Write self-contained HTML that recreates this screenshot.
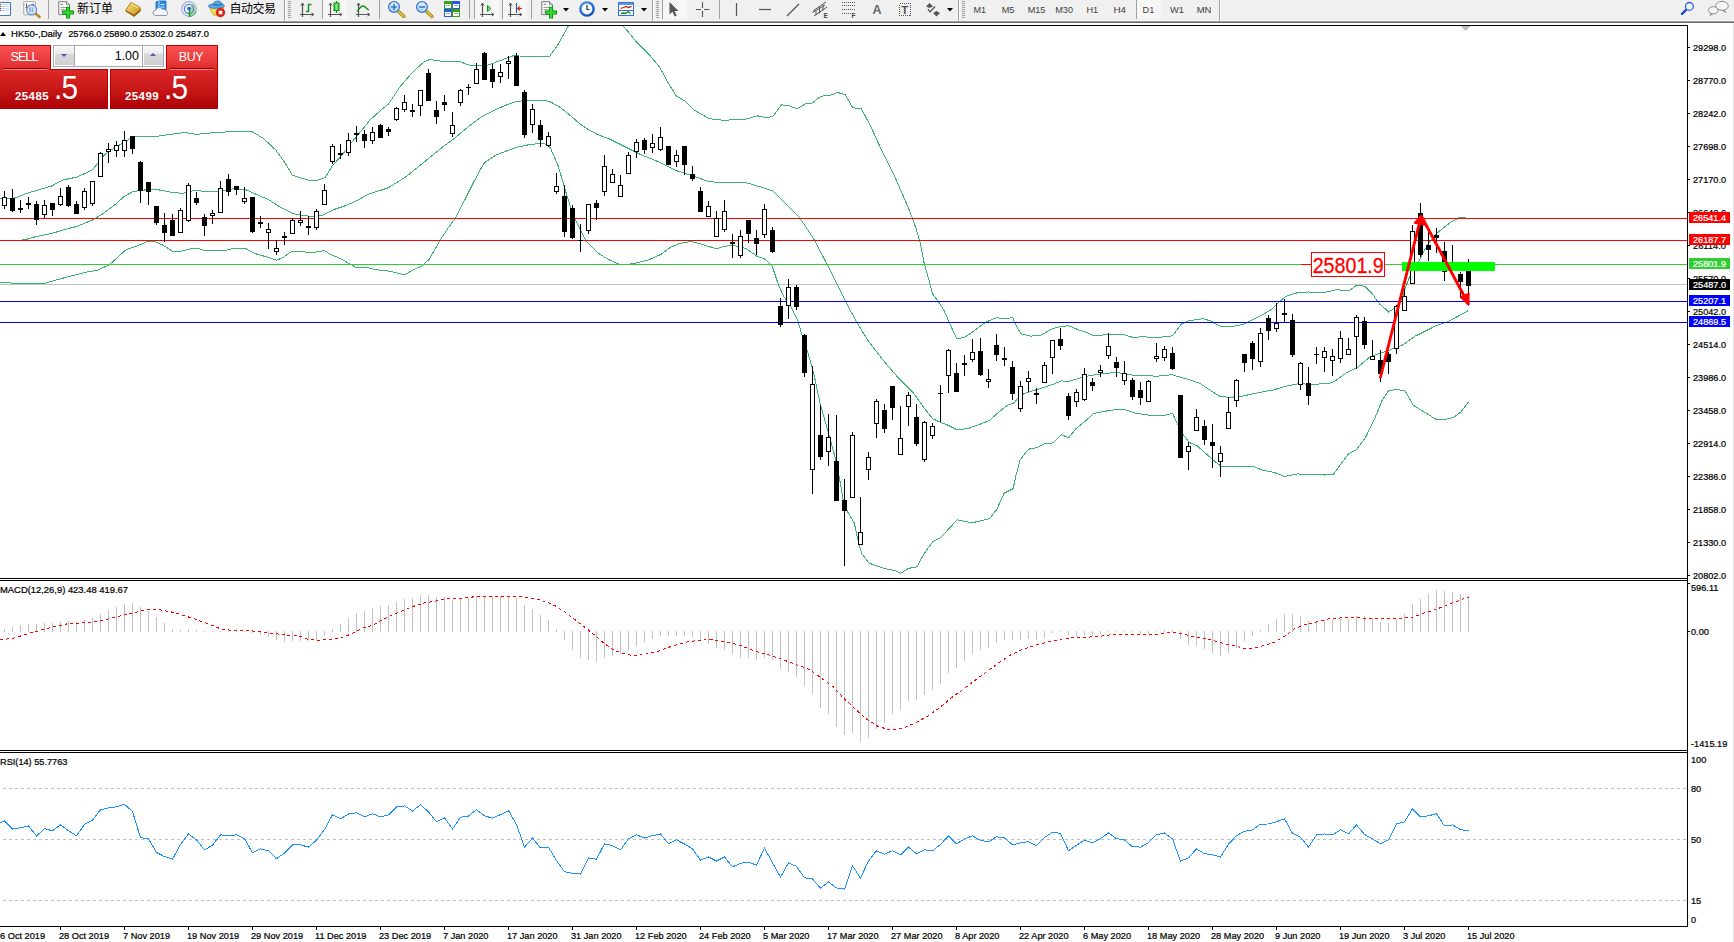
<!DOCTYPE html>
<html><head><meta charset="utf-8"><title>HK50-,Daily</title>
<style>
html,body{margin:0;padding:0;background:#fff;}
body{width:1734px;height:942px;position:relative;overflow:hidden;font-family:"Liberation Sans","Noto Sans CJK SC",sans-serif;}
#chart{position:absolute;left:0;top:0;}
#tb{position:absolute;left:0;top:0;width:1734px;height:20px;background:#f0f0f0;}
#tbl0{position:absolute;left:0;top:20px;width:1734px;height:1px;background:#f6f6f6;}
#tbl1{position:absolute;left:0;top:21px;width:1734px;height:1px;background:#a0a0a0;}
#tbl2{position:absolute;left:0;top:22px;width:1734px;height:1px;background:#696969;}
#redge{position:absolute;left:1733px;top:23px;width:1px;height:919px;background:#e8e8e8;}
#tbsvg{position:absolute;left:0;top:0;}
#tp{position:absolute;left:0;top:45px;width:218px;height:64px;font-family:"Liberation Sans",sans-serif;}
#tp div{position:absolute;box-sizing:border-box;}

</style></head><body>
<svg id="chart" width="1734" height="942" viewBox="0 0 1734 942"><g shape-rendering="crispEdges">
<rect x="0" y="25" width="1688" height="1" fill="#000"/>
<rect x="1687" y="25" width="1" height="902" fill="#000"/>
<rect x="0" y="578" width="1688" height="1" fill="#000"/>
<rect x="0" y="580" width="1688" height="1" fill="#000"/>
<rect x="0" y="750" width="1688" height="1" fill="#000"/>
<rect x="0" y="752" width="1688" height="1" fill="#000"/>
<rect x="0" y="926" width="1688" height="1" fill="#000"/>
</g>
<defs><clipPath id="cm"><rect x="0" y="26" width="1687" height="552"/></clipPath></defs>
<g clip-path="url(#cm)">
<rect x="0" y="284" width="1687" height="1" fill="#c0c0c0" shape-rendering="crispEdges"/>
<g shape-rendering="crispEdges">
<polyline points="0.5,198.8 15.5,197.9 26.0,193.7 39.5,189.5 51.5,186.0 63.5,179.8 76.5,177.2 92.5,169.9 99.0,161.5 105.5,153.8 116.0,147.0 126.1,141.1 131.2,137.7 136.5,136.8 156.5,136.3 170.5,134.3 185.5,132.5 196.5,134.4 216.4,132.4 232.6,131.7 252.5,132.0 263.3,138.3 275.9,150.1 284.9,162.7 292.2,175.0 301.2,178.0 309.3,180.4 317.5,180.2 325.0,177.7 331.9,166.3 340.9,156.4 349.9,144.7 359.0,133.5 369.8,120.3 380.6,110.4 388.5,104.0 399.6,87.3 413.0,71.7 424.2,61.7 429.7,59.5 444.2,61.7 459.8,61.7 471.0,65.7 486.6,65.7 500.0,60.6 513.4,55.7 531.2,56.6 549.3,56.7 558.0,44.6 567.9,26.6 575.5,18.5 615.5,18.5 623.8,26.6 636.9,42.4 650.1,55.6 659.9,67.6 667.6,81.9 676.4,96.1 685.1,101.1 693.9,109.9 709.2,118.7 722.4,120.2 744.3,119.6 757.5,115.8 766.2,117.6 772.8,116.5 781.6,104.9 788.1,105.3 796.9,108.8 805.7,103.8 812.2,103.1 821.0,96.1 829.8,95.7 837.4,92.4 845.1,94.6 852.8,107.7 861.5,108.8 871.4,127.9 882.4,152.0 895.5,178.3 903.0,195.5 909.4,210.4 915.7,227.3 920.0,242.2 924.2,263.4 928.5,278.3 932.7,294.2 939.1,302.7 944.1,310.5 949.5,323.1 956.7,338.5 964.0,337.6 974.8,330.4 985.6,322.2 996.5,317.7 1003.7,318.6 1012.7,317.7 1016.3,325.8 1020.8,333.6 1030.8,336.1 1041.6,334.9 1052.4,328.6 1061.4,326.4 1068.7,325.8 1077.7,329.5 1084.9,331.8 1093.9,335.8 1110.2,334.3 1124.5,334.8 1132.4,337.3 1144.1,336.8 1155.9,337.7 1172.6,335.8 1181.5,324.0 1189.3,320.6 1203.1,318.7 1210.9,321.0 1220.8,326.5 1230.6,326.9 1242.4,324.6 1252.2,320.1 1262.0,315.1 1271.8,309.3 1279.7,301.4 1285.6,296.5 1296.5,293.0 1308.5,292.0 1322.5,292.9 1336.5,289.7 1349.3,290.7 1356.9,285.0 1364.6,286.2 1372.2,293.9 1379.8,304.1 1388.8,312.1 1396.4,306.6 1402.8,297.1 1404.5,289.8 1409.6,277.0 1418.5,261.7 1423.6,251.5 1430.0,241.4 1436.4,233.7 1444.0,227.3 1451.6,221.6 1456.0,219.5 1459.5,217.5 1464.9,217.5 1466.0,218.5 1468.5,218.5" fill="none" stroke="#3cb371" stroke-width="1" />
<polyline points="0.5,240.9 24.5,239.9 34.5,237.0 51.5,233.5 68.5,228.5 76.5,226.5 92.5,220.0 102.5,214.1 116.0,203.9 124.5,196.2 132.9,191.7 141.5,190.3 153.5,189.1 163.5,190.6 173.5,192.8 183.5,193.2 192.5,190.8 196.5,190.3 207.3,191.9 220.0,191.6 232.6,188.9 245.2,189.4 256.1,194.3 268.7,199.7 281.3,207.8 294.0,213.8 304.8,215.6 312.0,216.5 322.9,215.0 333.7,209.6 344.5,206.0 355.3,201.5 368.0,194.3 380.6,190.3 388.5,187.7 406.3,176.5 424.2,162.0 442.0,147.5 455.4,137.5 468.8,126.3 482.1,116.3 497.8,108.5 513.4,102.3 522.3,100.7 533.4,100.3 549.0,101.1 560.2,107.4 571.3,116.3 580.2,124.1 588.5,129.7 597.5,134.5 609.0,138.8 625.0,146.8 641.0,154.7 659.3,162.1 675.2,170.3 691.2,175.3 707.2,181.0 718.6,182.8 732.3,182.1 746.0,182.6 759.7,186.7 772.5,190.8 777.7,195.5 799.0,216.7 813.8,239.0 826.6,263.4 837.2,284.7 847.8,305.9 858.4,325.0 869.0,342.0 883.9,361.1 896.6,376.0 900.9,380.5 913.6,393.2 924.2,408.1 932.7,418.7 940.5,422.4 947.7,425.1 956.7,429.6 967.6,428.7 976.6,425.5 989.2,420.6 998.3,412.5 1007.3,405.3 1014.5,402.6 1019.9,395.3 1028.9,392.1 1041.6,388.1 1052.4,384.5 1061.4,380.9 1068.7,381.4 1079.5,378.2 1090.3,375.5 1103.0,373.7 1115.6,372.4 1124.5,373.7 1136.3,375.7 1157.9,376.1 1171.7,374.7 1183.4,378.0 1199.2,382.9 1210.9,390.8 1220.8,396.7 1230.6,397.3 1242.4,396.1 1258.1,392.7 1273.8,389.8 1285.6,386.3 1297.4,383.9 1311.1,384.1 1327.6,383.9 1334.0,381.8 1345.4,373.5 1356.9,367.7 1370.5,356.4 1385.7,351.5 1402.2,345.3 1414.6,336.4 1428.5,329.5 1436.7,325.3 1447.7,321.9 1459.3,315.5 1468.5,310.5" fill="none" stroke="#3cb371" stroke-width="1" />
<polyline points="0.5,282.5 29.2,283.9 45.1,283.2 64.2,277.8 86.5,272.1 96.5,270.5 109.1,265.0 126.1,249.7 136.3,246.3 148.2,241.2 155.0,241.5 163.5,245.5 172.8,251.5 180.5,251.5 192.3,248.4 196.5,248.1 203.7,250.2 223.5,250.8 235.3,248.1 245.2,248.4 256.1,253.9 268.7,257.5 276.8,260.2 283.1,257.5 290.4,252.1 299.4,251.1 310.2,253.0 322.9,250.8 324.9,250.9 331.0,254.7 336.6,257.0 344.7,261.0 350.4,264.2 356.8,267.8 368.9,268.0 377.0,269.8 385.1,270.5 393.2,272.1 404.5,274.9 409.3,272.1 415.8,268.4 421.4,266.6 424.6,263.2 429.5,259.2 433.5,251.5 437.6,245.0 440.8,239.0 446.5,230.5 455.4,217.8 466.5,196.6 477.7,174.3 484.4,162.7 495.5,155.3 506.7,150.9 517.8,147.1 531.2,144.2 544.6,143.5 550.2,147.5 558.0,165.4 564.6,187.7 571.3,210.0 577.1,223.2 586.2,241.5 597.6,252.9 609.0,259.8 620.4,264.8 631.9,263.9 647.8,260.2 661.5,254.1 670.7,247.2 679.8,243.3 691.2,241.5 702.6,244.5 716.3,248.8 725.5,246.1 734.6,245.6 746.0,248.4 756.5,256.0 765.0,259.2 772.4,266.6 777.7,282.5 783.0,295.3 790.5,305.9 797.9,320.8 802.1,335.6 808.5,354.7 813.8,373.8 820.2,403.9 828.7,433.6 837.2,465.4 843.5,501.5 847.8,512.1 854.2,522.8 858.4,541.9 861.6,553.5 869.0,563.1 883.9,568.4 894.5,570.5 900.9,573.3 908.3,568.4 916.8,566.9 924.2,553.5 932.7,541.9 940.5,537.7 957.1,519.9 972.3,522.8 989.5,518.6 996.6,509.7 1004.2,493.1 1013.1,488.7 1015.7,476.6 1020.1,460.0 1028.4,449.2 1037.3,447.6 1043.7,444.1 1053.2,442.8 1061.4,434.7 1068.7,437.8 1075.9,428.7 1084.9,421.5 1093.9,413.4 1103.0,411.6 1113.8,409.8 1124.5,409.5 1136.3,413.4 1150.0,415.3 1163.8,415.7 1172.6,413.4 1177.5,424.2 1183.4,435.0 1189.3,442.5 1197.2,445.8 1207.0,454.6 1214.9,461.5 1221.7,466.8 1254.2,466.8 1262.0,470.0 1273.8,472.3 1284.6,476.6 1297.4,473.9 1311.1,474.9 1324.5,475.0 1333.2,474.8 1341.1,463.6 1348.7,453.5 1356.4,449.7 1365.9,436.8 1375.5,416.7 1382.0,400.5 1388.4,390.8 1396.7,389.5 1405.0,390.8 1413.3,405.3 1425.7,412.9 1436.7,419.8 1445.7,419.4 1453.3,417.5 1460.8,412.2 1468.4,401.9" fill="none" stroke="#3cb371" stroke-width="1" />
</g>
<g shape-rendering="crispEdges">
<rect x="0" y="218" width="1687" height="1" fill="#ff0000"/>
<rect x="0" y="240" width="1687" height="1" fill="#ff0000"/>
<rect x="0" y="264" width="1687" height="1" fill="#32cd32"/>
<rect x="0" y="301" width="1687" height="1" fill="#0000ff"/>
<rect x="0" y="322" width="1687" height="1" fill="#0000ff"/>
</g>
<g shape-rendering="crispEdges">
<rect x="4" y="191" width="1" height="18" fill="#000"/>
<rect x="2" y="197" width="5" height="9" fill="#000"/>
<rect x="3" y="198" width="3" height="7" fill="#fff"/>
<rect x="12" y="189" width="1" height="23" fill="#000"/>
<rect x="10" y="198" width="5" height="13" fill="#000"/>
<rect x="20" y="200" width="1" height="13" fill="#000"/>
<rect x="18" y="208" width="5" height="2" fill="#000"/>
<rect x="28" y="197" width="1" height="12" fill="#000"/>
<rect x="26" y="203" width="5" height="2" fill="#000"/>
<rect x="36" y="201" width="1" height="24" fill="#000"/>
<rect x="34" y="204" width="5" height="16" fill="#000"/>
<rect x="44" y="200" width="1" height="18" fill="#000"/>
<rect x="42" y="205" width="5" height="10" fill="#000"/>
<rect x="43" y="206" width="3" height="8" fill="#fff"/>
<rect x="52" y="203" width="1" height="13" fill="#000"/>
<rect x="50" y="203" width="5" height="7" fill="#000"/>
<rect x="60" y="188" width="1" height="18" fill="#000"/>
<rect x="58" y="196" width="5" height="9" fill="#000"/>
<rect x="59" y="197" width="3" height="7" fill="#fff"/>
<rect x="68" y="185" width="1" height="22" fill="#000"/>
<rect x="66" y="187" width="5" height="19" fill="#000"/>
<rect x="76" y="201" width="1" height="13" fill="#000"/>
<rect x="74" y="204" width="5" height="10" fill="#000"/>
<rect x="84" y="188" width="1" height="22" fill="#000"/>
<rect x="82" y="191" width="5" height="17" fill="#000"/>
<rect x="83" y="192" width="3" height="15" fill="#fff"/>
<rect x="92" y="181" width="1" height="25" fill="#000"/>
<rect x="90" y="181" width="5" height="23" fill="#000"/>
<rect x="91" y="182" width="3" height="21" fill="#fff"/>
<rect x="100" y="152" width="1" height="25" fill="#000"/>
<rect x="98" y="153" width="5" height="24" fill="#000"/>
<rect x="99" y="154" width="3" height="22" fill="#fff"/>
<rect x="108" y="143" width="1" height="20" fill="#000"/>
<rect x="106" y="149" width="5" height="3" fill="#000"/>
<rect x="107" y="150" width="3" height="1" fill="#fff"/>
<rect x="116" y="141" width="1" height="16" fill="#000"/>
<rect x="114" y="145" width="5" height="6" fill="#000"/>
<rect x="115" y="146" width="3" height="4" fill="#fff"/>
<rect x="124" y="131" width="1" height="26" fill="#000"/>
<rect x="122" y="140" width="5" height="11" fill="#000"/>
<rect x="123" y="141" width="3" height="9" fill="#fff"/>
<rect x="132" y="136" width="1" height="18" fill="#000"/>
<rect x="130" y="136" width="5" height="13" fill="#000"/>
<rect x="140" y="161" width="1" height="42" fill="#000"/>
<rect x="138" y="162" width="5" height="29" fill="#000"/>
<rect x="148" y="182" width="1" height="23" fill="#000"/>
<rect x="146" y="182" width="5" height="10" fill="#000"/>
<rect x="156" y="206" width="1" height="19" fill="#000"/>
<rect x="154" y="206" width="5" height="17" fill="#000"/>
<rect x="164" y="213" width="1" height="29" fill="#000"/>
<rect x="162" y="225" width="5" height="8" fill="#000"/>
<rect x="172" y="214" width="1" height="22" fill="#000"/>
<rect x="170" y="220" width="5" height="16" fill="#000"/>
<rect x="180" y="208" width="1" height="25" fill="#000"/>
<rect x="178" y="210" width="5" height="23" fill="#000"/>
<rect x="179" y="211" width="3" height="21" fill="#fff"/>
<rect x="188" y="183" width="1" height="39" fill="#000"/>
<rect x="186" y="185" width="5" height="36" fill="#000"/>
<rect x="187" y="186" width="3" height="34" fill="#fff"/>
<rect x="196" y="192" width="1" height="13" fill="#000"/>
<rect x="194" y="198" width="5" height="5" fill="#000"/>
<rect x="204" y="214" width="1" height="22" fill="#000"/>
<rect x="202" y="217" width="5" height="9" fill="#000"/>
<rect x="212" y="210" width="1" height="14" fill="#000"/>
<rect x="210" y="213" width="5" height="3" fill="#000"/>
<rect x="211" y="214" width="3" height="1" fill="#fff"/>
<rect x="220" y="181" width="1" height="32" fill="#000"/>
<rect x="218" y="188" width="5" height="25" fill="#000"/>
<rect x="219" y="189" width="3" height="23" fill="#fff"/>
<rect x="228" y="174" width="1" height="22" fill="#000"/>
<rect x="226" y="179" width="5" height="13" fill="#000"/>
<rect x="236" y="186" width="1" height="9" fill="#000"/>
<rect x="234" y="186" width="5" height="4" fill="#000"/>
<rect x="244" y="187" width="1" height="17" fill="#000"/>
<rect x="242" y="198" width="5" height="4" fill="#000"/>
<rect x="243" y="199" width="3" height="2" fill="#fff"/>
<rect x="252" y="197" width="1" height="36" fill="#000"/>
<rect x="250" y="197" width="5" height="35" fill="#000"/>
<rect x="260" y="216" width="1" height="12" fill="#000"/>
<rect x="258" y="222" width="5" height="2" fill="#000"/>
<rect x="268" y="223" width="1" height="26" fill="#000"/>
<rect x="266" y="229" width="5" height="4" fill="#000"/>
<rect x="267" y="230" width="3" height="2" fill="#fff"/>
<rect x="276" y="240" width="1" height="15" fill="#000"/>
<rect x="274" y="248" width="5" height="4" fill="#000"/>
<rect x="275" y="249" width="3" height="2" fill="#fff"/>
<rect x="284" y="232" width="1" height="13" fill="#000"/>
<rect x="282" y="236" width="5" height="2" fill="#000"/>
<rect x="292" y="218" width="1" height="16" fill="#000"/>
<rect x="290" y="220" width="5" height="14" fill="#000"/>
<rect x="291" y="221" width="3" height="12" fill="#fff"/>
<rect x="300" y="211" width="1" height="15" fill="#000"/>
<rect x="298" y="220" width="5" height="3" fill="#000"/>
<rect x="299" y="221" width="3" height="1" fill="#fff"/>
<rect x="308" y="216" width="1" height="19" fill="#000"/>
<rect x="306" y="226" width="5" height="2" fill="#000"/>
<rect x="316" y="209" width="1" height="21" fill="#000"/>
<rect x="314" y="211" width="5" height="17" fill="#000"/>
<rect x="315" y="212" width="3" height="15" fill="#fff"/>
<rect x="324" y="184" width="1" height="21" fill="#000"/>
<rect x="322" y="190" width="5" height="15" fill="#000"/>
<rect x="323" y="191" width="3" height="13" fill="#fff"/>
<rect x="332" y="144" width="1" height="20" fill="#000"/>
<rect x="330" y="146" width="5" height="16" fill="#000"/>
<rect x="331" y="147" width="3" height="14" fill="#fff"/>
<rect x="340" y="144" width="1" height="15" fill="#000"/>
<rect x="338" y="153" width="5" height="2" fill="#000"/>
<rect x="348" y="133" width="1" height="23" fill="#000"/>
<rect x="346" y="140" width="5" height="13" fill="#000"/>
<rect x="347" y="141" width="3" height="11" fill="#fff"/>
<rect x="356" y="126" width="1" height="16" fill="#000"/>
<rect x="354" y="133" width="5" height="2" fill="#000"/>
<rect x="364" y="130" width="1" height="18" fill="#000"/>
<rect x="362" y="134" width="5" height="7" fill="#000"/>
<rect x="372" y="127" width="1" height="17" fill="#000"/>
<rect x="370" y="132" width="5" height="9" fill="#000"/>
<rect x="371" y="133" width="3" height="7" fill="#fff"/>
<rect x="380" y="124" width="1" height="14" fill="#000"/>
<rect x="378" y="125" width="5" height="13" fill="#000"/>
<rect x="388" y="127" width="1" height="9" fill="#000"/>
<rect x="386" y="129" width="5" height="3" fill="#000"/>
<rect x="396" y="107" width="1" height="14" fill="#000"/>
<rect x="394" y="108" width="5" height="12" fill="#000"/>
<rect x="395" y="109" width="3" height="10" fill="#fff"/>
<rect x="404" y="95" width="1" height="17" fill="#000"/>
<rect x="402" y="102" width="5" height="8" fill="#000"/>
<rect x="403" y="103" width="3" height="6" fill="#fff"/>
<rect x="412" y="104" width="1" height="13" fill="#000"/>
<rect x="410" y="110" width="5" height="2" fill="#000"/>
<rect x="420" y="90" width="1" height="26" fill="#000"/>
<rect x="418" y="90" width="5" height="16" fill="#000"/>
<rect x="419" y="91" width="3" height="14" fill="#fff"/>
<rect x="428" y="69" width="1" height="32" fill="#000"/>
<rect x="426" y="73" width="5" height="28" fill="#000"/>
<rect x="436" y="101" width="1" height="23" fill="#000"/>
<rect x="434" y="110" width="5" height="7" fill="#000"/>
<rect x="444" y="95" width="1" height="16" fill="#000"/>
<rect x="442" y="102" width="5" height="3" fill="#000"/>
<rect x="452" y="112" width="1" height="25" fill="#000"/>
<rect x="450" y="125" width="5" height="9" fill="#000"/>
<rect x="451" y="126" width="3" height="7" fill="#fff"/>
<rect x="460" y="89" width="1" height="17" fill="#000"/>
<rect x="458" y="90" width="5" height="13" fill="#000"/>
<rect x="459" y="91" width="3" height="11" fill="#fff"/>
<rect x="468" y="84" width="1" height="11" fill="#000"/>
<rect x="466" y="87" width="5" height="1" fill="#000"/>
<rect x="476" y="63" width="1" height="21" fill="#000"/>
<rect x="474" y="69" width="5" height="15" fill="#000"/>
<rect x="475" y="70" width="3" height="13" fill="#fff"/>
<rect x="484" y="52" width="1" height="28" fill="#000"/>
<rect x="482" y="53" width="5" height="27" fill="#000"/>
<rect x="492" y="64" width="1" height="24" fill="#000"/>
<rect x="490" y="69" width="5" height="13" fill="#000"/>
<rect x="500" y="64" width="1" height="19" fill="#000"/>
<rect x="498" y="72" width="5" height="5" fill="#000"/>
<rect x="499" y="73" width="3" height="3" fill="#fff"/>
<rect x="508" y="56" width="1" height="23" fill="#000"/>
<rect x="506" y="61" width="5" height="3" fill="#000"/>
<rect x="507" y="62" width="3" height="1" fill="#fff"/>
<rect x="516" y="53" width="1" height="33" fill="#000"/>
<rect x="514" y="56" width="5" height="30" fill="#000"/>
<rect x="524" y="90" width="1" height="48" fill="#000"/>
<rect x="522" y="92" width="5" height="43" fill="#000"/>
<rect x="532" y="104" width="1" height="29" fill="#000"/>
<rect x="530" y="109" width="5" height="16" fill="#000"/>
<rect x="531" y="110" width="3" height="14" fill="#fff"/>
<rect x="540" y="120" width="1" height="27" fill="#000"/>
<rect x="538" y="125" width="5" height="15" fill="#000"/>
<rect x="548" y="132" width="1" height="15" fill="#000"/>
<rect x="546" y="136" width="5" height="10" fill="#000"/>
<rect x="547" y="137" width="3" height="8" fill="#fff"/>
<rect x="556" y="173" width="1" height="21" fill="#000"/>
<rect x="554" y="186" width="5" height="6" fill="#000"/>
<rect x="555" y="187" width="3" height="4" fill="#fff"/>
<rect x="564" y="185" width="1" height="52" fill="#000"/>
<rect x="562" y="196" width="5" height="36" fill="#000"/>
<rect x="572" y="205" width="1" height="34" fill="#000"/>
<rect x="570" y="208" width="5" height="30" fill="#000"/>
<rect x="580" y="224" width="1" height="28" fill="#000"/>
<rect x="578" y="240" width="5" height="1" fill="#000"/>
<rect x="588" y="204" width="1" height="30" fill="#000"/>
<rect x="586" y="204" width="5" height="27" fill="#000"/>
<rect x="587" y="205" width="3" height="25" fill="#fff"/>
<rect x="596" y="200" width="1" height="20" fill="#000"/>
<rect x="594" y="203" width="5" height="5" fill="#000"/>
<rect x="604" y="155" width="1" height="41" fill="#000"/>
<rect x="602" y="166" width="5" height="26" fill="#000"/>
<rect x="603" y="167" width="3" height="24" fill="#fff"/>
<rect x="612" y="169" width="1" height="14" fill="#000"/>
<rect x="610" y="174" width="5" height="9" fill="#000"/>
<rect x="611" y="175" width="3" height="7" fill="#fff"/>
<rect x="620" y="175" width="1" height="22" fill="#000"/>
<rect x="618" y="185" width="5" height="12" fill="#000"/>
<rect x="619" y="186" width="3" height="10" fill="#fff"/>
<rect x="628" y="152" width="1" height="22" fill="#000"/>
<rect x="626" y="155" width="5" height="19" fill="#000"/>
<rect x="627" y="156" width="3" height="17" fill="#fff"/>
<rect x="636" y="139" width="1" height="19" fill="#000"/>
<rect x="634" y="142" width="5" height="10" fill="#000"/>
<rect x="635" y="143" width="3" height="8" fill="#fff"/>
<rect x="644" y="138" width="1" height="16" fill="#000"/>
<rect x="642" y="140" width="5" height="10" fill="#000"/>
<rect x="652" y="134" width="1" height="19" fill="#000"/>
<rect x="650" y="143" width="5" height="5" fill="#000"/>
<rect x="651" y="144" width="3" height="3" fill="#fff"/>
<rect x="660" y="127" width="1" height="24" fill="#000"/>
<rect x="658" y="137" width="5" height="13" fill="#000"/>
<rect x="659" y="138" width="3" height="11" fill="#fff"/>
<rect x="668" y="146" width="1" height="19" fill="#000"/>
<rect x="666" y="146" width="5" height="19" fill="#000"/>
<rect x="676" y="150" width="1" height="17" fill="#000"/>
<rect x="674" y="155" width="5" height="7" fill="#000"/>
<rect x="675" y="156" width="3" height="5" fill="#fff"/>
<rect x="684" y="146" width="1" height="29" fill="#000"/>
<rect x="682" y="146" width="5" height="19" fill="#000"/>
<rect x="692" y="166" width="1" height="15" fill="#000"/>
<rect x="690" y="174" width="5" height="5" fill="#000"/>
<rect x="700" y="187" width="1" height="25" fill="#000"/>
<rect x="698" y="191" width="5" height="21" fill="#000"/>
<rect x="708" y="201" width="1" height="16" fill="#000"/>
<rect x="706" y="206" width="5" height="11" fill="#000"/>
<rect x="707" y="207" width="3" height="9" fill="#fff"/>
<rect x="716" y="211" width="1" height="26" fill="#000"/>
<rect x="714" y="218" width="5" height="19" fill="#000"/>
<rect x="715" y="219" width="3" height="17" fill="#fff"/>
<rect x="724" y="200" width="1" height="32" fill="#000"/>
<rect x="722" y="211" width="5" height="19" fill="#000"/>
<rect x="723" y="212" width="3" height="17" fill="#fff"/>
<rect x="732" y="234" width="1" height="24" fill="#000"/>
<rect x="730" y="242" width="5" height="2" fill="#000"/>
<rect x="740" y="230" width="1" height="28" fill="#000"/>
<rect x="738" y="236" width="5" height="20" fill="#000"/>
<rect x="739" y="237" width="3" height="18" fill="#fff"/>
<rect x="748" y="220" width="1" height="23" fill="#000"/>
<rect x="746" y="220" width="5" height="14" fill="#000"/>
<rect x="756" y="230" width="1" height="25" fill="#000"/>
<rect x="754" y="238" width="5" height="6" fill="#000"/>
<rect x="764" y="204" width="1" height="34" fill="#000"/>
<rect x="762" y="209" width="5" height="26" fill="#000"/>
<rect x="763" y="210" width="3" height="24" fill="#fff"/>
<rect x="772" y="227" width="1" height="26" fill="#000"/>
<rect x="770" y="230" width="5" height="22" fill="#000"/>
<rect x="780" y="298" width="1" height="29" fill="#000"/>
<rect x="778" y="306" width="5" height="19" fill="#000"/>
<rect x="788" y="279" width="1" height="40" fill="#000"/>
<rect x="786" y="287" width="5" height="19" fill="#000"/>
<rect x="787" y="288" width="3" height="17" fill="#fff"/>
<rect x="796" y="285" width="1" height="25" fill="#000"/>
<rect x="794" y="287" width="5" height="20" fill="#000"/>
<rect x="804" y="334" width="1" height="43" fill="#000"/>
<rect x="802" y="335" width="5" height="38" fill="#000"/>
<rect x="812" y="366" width="1" height="128" fill="#000"/>
<rect x="810" y="384" width="5" height="86" fill="#000"/>
<rect x="811" y="385" width="3" height="84" fill="#fff"/>
<rect x="820" y="405" width="1" height="55" fill="#000"/>
<rect x="818" y="435" width="5" height="22" fill="#000"/>
<rect x="828" y="414" width="1" height="52" fill="#000"/>
<rect x="826" y="437" width="5" height="15" fill="#000"/>
<rect x="827" y="438" width="3" height="13" fill="#fff"/>
<rect x="836" y="415" width="1" height="86" fill="#000"/>
<rect x="834" y="461" width="5" height="40" fill="#000"/>
<rect x="844" y="479" width="1" height="87" fill="#000"/>
<rect x="842" y="500" width="5" height="11" fill="#000"/>
<rect x="852" y="432" width="1" height="66" fill="#000"/>
<rect x="850" y="435" width="5" height="63" fill="#000"/>
<rect x="851" y="436" width="3" height="61" fill="#fff"/>
<rect x="860" y="497" width="1" height="48" fill="#000"/>
<rect x="858" y="532" width="5" height="13" fill="#000"/>
<rect x="859" y="533" width="3" height="11" fill="#fff"/>
<rect x="868" y="452" width="1" height="28" fill="#000"/>
<rect x="866" y="457" width="5" height="13" fill="#000"/>
<rect x="867" y="458" width="3" height="11" fill="#fff"/>
<rect x="876" y="399" width="1" height="39" fill="#000"/>
<rect x="874" y="401" width="5" height="23" fill="#000"/>
<rect x="875" y="402" width="3" height="21" fill="#fff"/>
<rect x="884" y="404" width="1" height="29" fill="#000"/>
<rect x="882" y="410" width="5" height="19" fill="#000"/>
<rect x="892" y="386" width="1" height="34" fill="#000"/>
<rect x="890" y="386" width="5" height="22" fill="#000"/>
<rect x="900" y="406" width="1" height="49" fill="#000"/>
<rect x="898" y="438" width="5" height="17" fill="#000"/>
<rect x="899" y="439" width="3" height="15" fill="#fff"/>
<rect x="908" y="392" width="1" height="34" fill="#000"/>
<rect x="906" y="395" width="5" height="12" fill="#000"/>
<rect x="907" y="396" width="3" height="10" fill="#fff"/>
<rect x="916" y="404" width="1" height="42" fill="#000"/>
<rect x="914" y="417" width="5" height="27" fill="#000"/>
<rect x="924" y="421" width="1" height="41" fill="#000"/>
<rect x="922" y="422" width="5" height="38" fill="#000"/>
<rect x="923" y="423" width="3" height="36" fill="#fff"/>
<rect x="932" y="423" width="1" height="16" fill="#000"/>
<rect x="930" y="426" width="5" height="10" fill="#000"/>
<rect x="931" y="427" width="3" height="8" fill="#fff"/>
<rect x="940" y="385" width="1" height="37" fill="#000"/>
<rect x="938" y="393" width="5" height="1" fill="#000"/>
<rect x="948" y="349" width="1" height="44" fill="#000"/>
<rect x="946" y="350" width="5" height="26" fill="#000"/>
<rect x="947" y="351" width="3" height="24" fill="#fff"/>
<rect x="956" y="363" width="1" height="29" fill="#000"/>
<rect x="954" y="373" width="5" height="19" fill="#000"/>
<rect x="964" y="355" width="1" height="21" fill="#000"/>
<rect x="962" y="363" width="5" height="2" fill="#000"/>
<rect x="972" y="339" width="1" height="23" fill="#000"/>
<rect x="970" y="352" width="5" height="8" fill="#000"/>
<rect x="971" y="353" width="3" height="6" fill="#fff"/>
<rect x="980" y="338" width="1" height="38" fill="#000"/>
<rect x="978" y="351" width="5" height="24" fill="#000"/>
<rect x="988" y="369" width="1" height="19" fill="#000"/>
<rect x="986" y="379" width="5" height="3" fill="#000"/>
<rect x="987" y="380" width="3" height="1" fill="#fff"/>
<rect x="996" y="334" width="1" height="27" fill="#000"/>
<rect x="994" y="345" width="5" height="10" fill="#000"/>
<rect x="1004" y="347" width="1" height="19" fill="#000"/>
<rect x="1002" y="358" width="5" height="2" fill="#000"/>
<rect x="1012" y="361" width="1" height="39" fill="#000"/>
<rect x="1010" y="367" width="5" height="27" fill="#000"/>
<rect x="1020" y="381" width="1" height="31" fill="#000"/>
<rect x="1018" y="386" width="5" height="23" fill="#000"/>
<rect x="1019" y="387" width="3" height="21" fill="#fff"/>
<rect x="1028" y="371" width="1" height="21" fill="#000"/>
<rect x="1026" y="378" width="5" height="4" fill="#000"/>
<rect x="1027" y="379" width="3" height="2" fill="#fff"/>
<rect x="1036" y="388" width="1" height="16" fill="#000"/>
<rect x="1034" y="393" width="5" height="2" fill="#000"/>
<rect x="1044" y="362" width="1" height="21" fill="#000"/>
<rect x="1042" y="365" width="5" height="18" fill="#000"/>
<rect x="1043" y="366" width="3" height="16" fill="#fff"/>
<rect x="1052" y="340" width="1" height="34" fill="#000"/>
<rect x="1050" y="340" width="5" height="18" fill="#000"/>
<rect x="1051" y="341" width="3" height="16" fill="#fff"/>
<rect x="1060" y="328" width="1" height="22" fill="#000"/>
<rect x="1058" y="339" width="5" height="7" fill="#000"/>
<rect x="1068" y="393" width="1" height="27" fill="#000"/>
<rect x="1066" y="396" width="5" height="20" fill="#000"/>
<rect x="1076" y="389" width="1" height="18" fill="#000"/>
<rect x="1074" y="392" width="5" height="10" fill="#000"/>
<rect x="1075" y="393" width="3" height="8" fill="#fff"/>
<rect x="1084" y="368" width="1" height="33" fill="#000"/>
<rect x="1082" y="374" width="5" height="26" fill="#000"/>
<rect x="1083" y="375" width="3" height="24" fill="#fff"/>
<rect x="1092" y="378" width="1" height="13" fill="#000"/>
<rect x="1090" y="382" width="5" height="4" fill="#000"/>
<rect x="1100" y="365" width="1" height="12" fill="#000"/>
<rect x="1098" y="370" width="5" height="3" fill="#000"/>
<rect x="1099" y="371" width="3" height="1" fill="#fff"/>
<rect x="1108" y="333" width="1" height="26" fill="#000"/>
<rect x="1106" y="346" width="5" height="10" fill="#000"/>
<rect x="1107" y="347" width="3" height="8" fill="#fff"/>
<rect x="1116" y="357" width="1" height="20" fill="#000"/>
<rect x="1114" y="362" width="5" height="6" fill="#000"/>
<rect x="1124" y="361" width="1" height="24" fill="#000"/>
<rect x="1122" y="373" width="5" height="8" fill="#000"/>
<rect x="1123" y="374" width="3" height="6" fill="#fff"/>
<rect x="1132" y="378" width="1" height="22" fill="#000"/>
<rect x="1130" y="380" width="5" height="17" fill="#000"/>
<rect x="1140" y="382" width="1" height="23" fill="#000"/>
<rect x="1138" y="390" width="5" height="8" fill="#000"/>
<rect x="1148" y="380" width="1" height="22" fill="#000"/>
<rect x="1146" y="381" width="5" height="21" fill="#000"/>
<rect x="1147" y="382" width="3" height="19" fill="#fff"/>
<rect x="1156" y="343" width="1" height="19" fill="#000"/>
<rect x="1154" y="356" width="5" height="3" fill="#000"/>
<rect x="1155" y="357" width="3" height="1" fill="#fff"/>
<rect x="1164" y="346" width="1" height="15" fill="#000"/>
<rect x="1162" y="349" width="5" height="9" fill="#000"/>
<rect x="1163" y="350" width="3" height="7" fill="#fff"/>
<rect x="1172" y="347" width="1" height="23" fill="#000"/>
<rect x="1170" y="353" width="5" height="16" fill="#000"/>
<rect x="1180" y="395" width="1" height="63" fill="#000"/>
<rect x="1178" y="395" width="5" height="63" fill="#000"/>
<rect x="1188" y="442" width="1" height="28" fill="#000"/>
<rect x="1186" y="446" width="5" height="6" fill="#000"/>
<rect x="1187" y="447" width="3" height="4" fill="#fff"/>
<rect x="1196" y="409" width="1" height="22" fill="#000"/>
<rect x="1194" y="417" width="5" height="14" fill="#000"/>
<rect x="1195" y="418" width="3" height="12" fill="#fff"/>
<rect x="1204" y="420" width="1" height="25" fill="#000"/>
<rect x="1202" y="426" width="5" height="14" fill="#000"/>
<rect x="1212" y="424" width="1" height="44" fill="#000"/>
<rect x="1210" y="442" width="5" height="4" fill="#000"/>
<rect x="1220" y="446" width="1" height="31" fill="#000"/>
<rect x="1218" y="453" width="5" height="9" fill="#000"/>
<rect x="1219" y="454" width="3" height="7" fill="#fff"/>
<rect x="1228" y="397" width="1" height="32" fill="#000"/>
<rect x="1226" y="412" width="5" height="17" fill="#000"/>
<rect x="1227" y="413" width="3" height="15" fill="#fff"/>
<rect x="1236" y="379" width="1" height="28" fill="#000"/>
<rect x="1234" y="380" width="5" height="21" fill="#000"/>
<rect x="1235" y="381" width="3" height="19" fill="#fff"/>
<rect x="1244" y="354" width="1" height="18" fill="#000"/>
<rect x="1242" y="354" width="5" height="9" fill="#000"/>
<rect x="1252" y="341" width="1" height="29" fill="#000"/>
<rect x="1250" y="343" width="5" height="16" fill="#000"/>
<rect x="1260" y="328" width="1" height="39" fill="#000"/>
<rect x="1258" y="333" width="5" height="29" fill="#000"/>
<rect x="1259" y="334" width="3" height="27" fill="#fff"/>
<rect x="1268" y="315" width="1" height="25" fill="#000"/>
<rect x="1266" y="318" width="5" height="13" fill="#000"/>
<rect x="1276" y="303" width="1" height="29" fill="#000"/>
<rect x="1274" y="323" width="5" height="6" fill="#000"/>
<rect x="1275" y="324" width="3" height="4" fill="#fff"/>
<rect x="1284" y="299" width="1" height="23" fill="#000"/>
<rect x="1282" y="313" width="5" height="2" fill="#000"/>
<rect x="1292" y="314" width="1" height="43" fill="#000"/>
<rect x="1290" y="320" width="5" height="35" fill="#000"/>
<rect x="1300" y="362" width="1" height="28" fill="#000"/>
<rect x="1298" y="363" width="5" height="22" fill="#000"/>
<rect x="1299" y="364" width="3" height="20" fill="#fff"/>
<rect x="1308" y="367" width="1" height="38" fill="#000"/>
<rect x="1306" y="383" width="5" height="13" fill="#000"/>
<rect x="1316" y="347" width="1" height="17" fill="#000"/>
<rect x="1314" y="354" width="5" height="1" fill="#000"/>
<rect x="1324" y="347" width="1" height="25" fill="#000"/>
<rect x="1322" y="351" width="5" height="7" fill="#000"/>
<rect x="1323" y="352" width="3" height="5" fill="#fff"/>
<rect x="1332" y="349" width="1" height="27" fill="#000"/>
<rect x="1330" y="356" width="5" height="5" fill="#000"/>
<rect x="1331" y="357" width="3" height="3" fill="#fff"/>
<rect x="1340" y="331" width="1" height="32" fill="#000"/>
<rect x="1338" y="338" width="5" height="21" fill="#000"/>
<rect x="1339" y="339" width="3" height="19" fill="#fff"/>
<rect x="1348" y="338" width="1" height="17" fill="#000"/>
<rect x="1346" y="349" width="5" height="6" fill="#000"/>
<rect x="1347" y="350" width="3" height="4" fill="#fff"/>
<rect x="1356" y="315" width="1" height="54" fill="#000"/>
<rect x="1354" y="317" width="5" height="20" fill="#000"/>
<rect x="1355" y="318" width="3" height="18" fill="#fff"/>
<rect x="1364" y="317" width="1" height="32" fill="#000"/>
<rect x="1362" y="321" width="5" height="24" fill="#000"/>
<rect x="1372" y="340" width="1" height="20" fill="#000"/>
<rect x="1370" y="356" width="5" height="4" fill="#000"/>
<rect x="1371" y="357" width="3" height="2" fill="#fff"/>
<rect x="1380" y="350" width="1" height="32" fill="#000"/>
<rect x="1378" y="360" width="5" height="14" fill="#000"/>
<rect x="1388" y="352" width="1" height="22" fill="#000"/>
<rect x="1386" y="354" width="5" height="8" fill="#000"/>
<rect x="1396" y="305" width="1" height="49" fill="#000"/>
<rect x="1394" y="306" width="5" height="43" fill="#000"/>
<rect x="1395" y="307" width="3" height="41" fill="#fff"/>
<rect x="1404" y="289" width="1" height="22" fill="#000"/>
<rect x="1402" y="296" width="5" height="15" fill="#000"/>
<rect x="1403" y="297" width="3" height="13" fill="#fff"/>
<rect x="1412" y="225" width="1" height="59" fill="#000"/>
<rect x="1410" y="231" width="5" height="53" fill="#000"/>
<rect x="1411" y="232" width="3" height="51" fill="#fff"/>
<rect x="1420" y="203" width="1" height="54" fill="#000"/>
<rect x="1418" y="213" width="5" height="42" fill="#000"/>
<rect x="1428" y="232" width="1" height="29" fill="#000"/>
<rect x="1426" y="245" width="5" height="5" fill="#000"/>
<rect x="1436" y="228" width="1" height="25" fill="#000"/>
<rect x="1434" y="235" width="5" height="3" fill="#000"/>
<rect x="1444" y="242" width="1" height="39" fill="#000"/>
<rect x="1442" y="251" width="5" height="21" fill="#000"/>
<rect x="1452" y="245" width="1" height="25" fill="#000"/>
<rect x="1450" y="266" width="5" height="1" fill="#000"/>
<rect x="1460" y="272" width="1" height="26" fill="#000"/>
<rect x="1458" y="274" width="5" height="8" fill="#000"/>
<rect x="1468" y="259" width="1" height="38" fill="#000"/>
<rect x="1466" y="268" width="5" height="18" fill="#000"/>
</g>
<rect x="1402" y="262" width="93" height="9" fill="#00ff00" shape-rendering="crispEdges"/>
<g shape-rendering="crispEdges"><rect x="1301" y="264" width="10" height="1" fill="#ff0000"/><rect x="1311.5" y="252.5" width="73" height="24" fill="#fff" stroke="#ff0000" stroke-width="1"/></g>
<text x="1348.2" y="273" font-family='"Liberation Sans","Noto Sans CJK SC",sans-serif' font-size="22.4" fill="#ff0000" stroke="#ff0000" stroke-width=".3" text-anchor="middle" textLength="71" lengthAdjust="spacingAndGlyphs">25801.9</text>
<g stroke="#ff0000" stroke-width="2.9" fill="#ff0000" stroke-linecap="round" stroke-linejoin="round">
<line x1="1380.5" y1="377" x2="1421" y2="217"/>
<line x1="1421.8" y1="217" x2="1468.2" y2="303.5"/>
<polygon points="1421,215.5 1414.5,223 1425,225" stroke-width="1.5"/>
<polygon points="1468.5,305 1460.5,297 1469,293.5" stroke-width="1.5"/>
</g>
</g>
<polygon points="1460.5,26 1470.5,26 1465.5,31" fill="#c0c0c0"/>
<g shape-rendering="crispEdges">
<rect x="1688" y="47" width="2" height="1" fill="#000"/>
<rect x="1688" y="80" width="2" height="1" fill="#000"/>
<rect x="1688" y="113" width="2" height="1" fill="#000"/>
<rect x="1688" y="146" width="2" height="1" fill="#000"/>
<rect x="1688" y="179" width="2" height="1" fill="#000"/>
<rect x="1688" y="212" width="2" height="1" fill="#000"/>
<rect x="1688" y="245" width="2" height="1" fill="#000"/>
<rect x="1688" y="278" width="2" height="1" fill="#000"/>
<rect x="1688" y="311" width="2" height="1" fill="#000"/>
<rect x="1688" y="344" width="2" height="1" fill="#000"/>
<rect x="1688" y="377" width="2" height="1" fill="#000"/>
<rect x="1688" y="410" width="2" height="1" fill="#000"/>
<rect x="1688" y="443" width="2" height="1" fill="#000"/>
<rect x="1688" y="476" width="2" height="1" fill="#000"/>
<rect x="1688" y="509" width="2" height="1" fill="#000"/>
<rect x="1688" y="542" width="2" height="1" fill="#000"/>
<rect x="1688" y="575" width="2" height="1" fill="#000"/>
</g>
<g font-family='"Liberation Sans","Noto Sans CJK SC",sans-serif' font-size="9.2" fill="#000" stroke="#000" stroke-width=".22">
<text transform="translate(1693 51) scale(1 1.05)" textLength="33" lengthAdjust="spacingAndGlyphs">29298.0</text>
<text transform="translate(1693 84) scale(1 1.05)" textLength="33" lengthAdjust="spacingAndGlyphs">28770.0</text>
<text transform="translate(1693 117) scale(1 1.05)" textLength="33" lengthAdjust="spacingAndGlyphs">28242.0</text>
<text transform="translate(1693 150) scale(1 1.05)" textLength="33" lengthAdjust="spacingAndGlyphs">27698.0</text>
<text transform="translate(1693 183) scale(1 1.05)" textLength="33" lengthAdjust="spacingAndGlyphs">27170.0</text>
<text transform="translate(1693 216) scale(1 1.05)" textLength="33" lengthAdjust="spacingAndGlyphs">26642.0</text>
<text transform="translate(1693 249) scale(1 1.05)" textLength="33" lengthAdjust="spacingAndGlyphs">26114.0</text>
<text transform="translate(1693 282) scale(1 1.05)" textLength="33" lengthAdjust="spacingAndGlyphs">25570.0</text>
<text transform="translate(1693 315) scale(1 1.05)" textLength="33" lengthAdjust="spacingAndGlyphs">25042.0</text>
<text transform="translate(1693 348) scale(1 1.05)" textLength="33" lengthAdjust="spacingAndGlyphs">24514.0</text>
<text transform="translate(1693 381) scale(1 1.05)" textLength="33" lengthAdjust="spacingAndGlyphs">23986.0</text>
<text transform="translate(1693 414) scale(1 1.05)" textLength="33" lengthAdjust="spacingAndGlyphs">23458.0</text>
<text transform="translate(1693 447) scale(1 1.05)" textLength="33" lengthAdjust="spacingAndGlyphs">22914.0</text>
<text transform="translate(1693 480) scale(1 1.05)" textLength="33" lengthAdjust="spacingAndGlyphs">22386.0</text>
<text transform="translate(1693 513) scale(1 1.05)" textLength="33" lengthAdjust="spacingAndGlyphs">21858.0</text>
<text transform="translate(1693 546) scale(1 1.05)" textLength="33" lengthAdjust="spacingAndGlyphs">21330.0</text>
<text transform="translate(1693 579) scale(1 1.05)" textLength="33" lengthAdjust="spacingAndGlyphs">20802.0</text>
</g>
<g shape-rendering="crispEdges">
<rect x="1689" y="212" width="41" height="11" fill="#ff0000"/>
<rect x="1689" y="234" width="41" height="11" fill="#ff0000"/>
<rect x="1689" y="258" width="41" height="11" fill="#32cd32"/>
<rect x="1689" y="279" width="41" height="11" fill="#000000"/>
<rect x="1689" y="295" width="41" height="11" fill="#0000ff"/>
<rect x="1689" y="316" width="41" height="11" fill="#0000ff"/>
</g>
<g font-family='"Liberation Sans","Noto Sans CJK SC",sans-serif' font-size="9.2" fill="#fff" stroke="#fff" stroke-width=".22">
<text transform="translate(1693 221) scale(1 1.05)" textLength="33" lengthAdjust="spacingAndGlyphs">26541.4</text>
<text transform="translate(1693 243) scale(1 1.05)" textLength="33" lengthAdjust="spacingAndGlyphs">26187.7</text>
<text transform="translate(1693 267) scale(1 1.05)" textLength="33" lengthAdjust="spacingAndGlyphs">25801.9</text>
<text transform="translate(1693 288) scale(1 1.05)" textLength="33" lengthAdjust="spacingAndGlyphs">25487.0</text>
<text transform="translate(1693 304) scale(1 1.05)" textLength="33" lengthAdjust="spacingAndGlyphs">25207.1</text>
<text transform="translate(1693 325) scale(1 1.05)" textLength="33" lengthAdjust="spacingAndGlyphs">24869.5</text>
</g>
<g shape-rendering="crispEdges">
<rect x="4" y="629" width="1" height="3" fill="#c0c0c0"/>
<rect x="12" y="627" width="1" height="5" fill="#c0c0c0"/>
<rect x="20" y="625" width="1" height="7" fill="#c0c0c0"/>
<rect x="28" y="624" width="1" height="8" fill="#c0c0c0"/>
<rect x="36" y="624" width="1" height="8" fill="#c0c0c0"/>
<rect x="44" y="623" width="1" height="9" fill="#c0c0c0"/>
<rect x="52" y="623" width="1" height="9" fill="#c0c0c0"/>
<rect x="60" y="622" width="1" height="10" fill="#c0c0c0"/>
<rect x="68" y="621" width="1" height="11" fill="#c0c0c0"/>
<rect x="76" y="622" width="1" height="10" fill="#c0c0c0"/>
<rect x="84" y="620" width="1" height="12" fill="#c0c0c0"/>
<rect x="92" y="618" width="1" height="14" fill="#c0c0c0"/>
<rect x="100" y="614" width="1" height="18" fill="#c0c0c0"/>
<rect x="108" y="610" width="1" height="22" fill="#c0c0c0"/>
<rect x="116" y="607" width="1" height="25" fill="#c0c0c0"/>
<rect x="124" y="604" width="1" height="28" fill="#c0c0c0"/>
<rect x="132" y="603" width="1" height="29" fill="#c0c0c0"/>
<rect x="140" y="607" width="1" height="25" fill="#c0c0c0"/>
<rect x="148" y="611" width="1" height="21" fill="#c0c0c0"/>
<rect x="156" y="617" width="1" height="15" fill="#c0c0c0"/>
<rect x="164" y="623" width="1" height="9" fill="#c0c0c0"/>
<rect x="172" y="629" width="1" height="3" fill="#c0c0c0"/>
<rect x="180" y="630" width="1" height="2" fill="#c0c0c0"/>
<rect x="188" y="629" width="1" height="3" fill="#c0c0c0"/>
<rect x="196" y="630" width="1" height="2" fill="#c0c0c0"/>
<rect x="204" y="631" width="1" height="1" fill="#c0c0c0"/>
<rect x="212" y="631" width="1" height="1" fill="#c0c0c0"/>
<rect x="220" y="631" width="1" height="1" fill="#c0c0c0"/>
<rect x="228" y="631" width="1" height="1" fill="#c0c0c0"/>
<rect x="236" y="631" width="1" height="1" fill="#c0c0c0"/>
<rect x="244" y="631" width="1" height="1" fill="#c0c0c0"/>
<rect x="252" y="631" width="1" height="2" fill="#c0c0c0"/>
<rect x="260" y="631" width="1" height="4" fill="#c0c0c0"/>
<rect x="268" y="631" width="1" height="6" fill="#c0c0c0"/>
<rect x="276" y="631" width="1" height="9" fill="#c0c0c0"/>
<rect x="284" y="631" width="1" height="11" fill="#c0c0c0"/>
<rect x="292" y="631" width="1" height="10" fill="#c0c0c0"/>
<rect x="300" y="631" width="1" height="10" fill="#c0c0c0"/>
<rect x="308" y="631" width="1" height="10" fill="#c0c0c0"/>
<rect x="316" y="631" width="1" height="9" fill="#c0c0c0"/>
<rect x="324" y="631" width="1" height="5" fill="#c0c0c0"/>
<rect x="332" y="629" width="1" height="3" fill="#c0c0c0"/>
<rect x="340" y="624" width="1" height="8" fill="#c0c0c0"/>
<rect x="348" y="618" width="1" height="14" fill="#c0c0c0"/>
<rect x="356" y="613" width="1" height="19" fill="#c0c0c0"/>
<rect x="364" y="611" width="1" height="21" fill="#c0c0c0"/>
<rect x="372" y="608" width="1" height="24" fill="#c0c0c0"/>
<rect x="380" y="606" width="1" height="26" fill="#c0c0c0"/>
<rect x="388" y="605" width="1" height="27" fill="#c0c0c0"/>
<rect x="396" y="602" width="1" height="30" fill="#c0c0c0"/>
<rect x="404" y="599" width="1" height="33" fill="#c0c0c0"/>
<rect x="412" y="598" width="1" height="34" fill="#c0c0c0"/>
<rect x="420" y="595" width="1" height="37" fill="#c0c0c0"/>
<rect x="428" y="595" width="1" height="37" fill="#c0c0c0"/>
<rect x="436" y="597" width="1" height="35" fill="#c0c0c0"/>
<rect x="444" y="597" width="1" height="35" fill="#c0c0c0"/>
<rect x="452" y="600" width="1" height="32" fill="#c0c0c0"/>
<rect x="460" y="599" width="1" height="33" fill="#c0c0c0"/>
<rect x="468" y="598" width="1" height="34" fill="#c0c0c0"/>
<rect x="476" y="596" width="1" height="36" fill="#c0c0c0"/>
<rect x="484" y="596" width="1" height="36" fill="#c0c0c0"/>
<rect x="492" y="596" width="1" height="36" fill="#c0c0c0"/>
<rect x="500" y="596" width="1" height="36" fill="#c0c0c0"/>
<rect x="508" y="596" width="1" height="36" fill="#c0c0c0"/>
<rect x="516" y="598" width="1" height="34" fill="#c0c0c0"/>
<rect x="524" y="605" width="1" height="27" fill="#c0c0c0"/>
<rect x="532" y="609" width="1" height="23" fill="#c0c0c0"/>
<rect x="540" y="615" width="1" height="17" fill="#c0c0c0"/>
<rect x="548" y="620" width="1" height="12" fill="#c0c0c0"/>
<rect x="556" y="629" width="1" height="3" fill="#c0c0c0"/>
<rect x="564" y="631" width="1" height="9" fill="#c0c0c0"/>
<rect x="572" y="631" width="1" height="19" fill="#c0c0c0"/>
<rect x="580" y="631" width="1" height="27" fill="#c0c0c0"/>
<rect x="588" y="631" width="1" height="29" fill="#c0c0c0"/>
<rect x="596" y="631" width="1" height="31" fill="#c0c0c0"/>
<rect x="604" y="631" width="1" height="27" fill="#c0c0c0"/>
<rect x="612" y="631" width="1" height="25" fill="#c0c0c0"/>
<rect x="620" y="631" width="1" height="23" fill="#c0c0c0"/>
<rect x="628" y="631" width="1" height="19" fill="#c0c0c0"/>
<rect x="636" y="631" width="1" height="15" fill="#c0c0c0"/>
<rect x="644" y="631" width="1" height="11" fill="#c0c0c0"/>
<rect x="652" y="631" width="1" height="8" fill="#c0c0c0"/>
<rect x="660" y="631" width="1" height="5" fill="#c0c0c0"/>
<rect x="668" y="631" width="1" height="5" fill="#c0c0c0"/>
<rect x="676" y="631" width="1" height="5" fill="#c0c0c0"/>
<rect x="684" y="631" width="1" height="5" fill="#c0c0c0"/>
<rect x="692" y="631" width="1" height="6" fill="#c0c0c0"/>
<rect x="700" y="631" width="1" height="10" fill="#c0c0c0"/>
<rect x="708" y="631" width="1" height="13" fill="#c0c0c0"/>
<rect x="716" y="631" width="1" height="17" fill="#c0c0c0"/>
<rect x="724" y="631" width="1" height="19" fill="#c0c0c0"/>
<rect x="732" y="631" width="1" height="23" fill="#c0c0c0"/>
<rect x="740" y="631" width="1" height="27" fill="#c0c0c0"/>
<rect x="748" y="631" width="1" height="27" fill="#c0c0c0"/>
<rect x="756" y="631" width="1" height="29" fill="#c0c0c0"/>
<rect x="764" y="631" width="1" height="27" fill="#c0c0c0"/>
<rect x="772" y="631" width="1" height="29" fill="#c0c0c0"/>
<rect x="780" y="631" width="1" height="38" fill="#c0c0c0"/>
<rect x="788" y="631" width="1" height="41" fill="#c0c0c0"/>
<rect x="796" y="631" width="1" height="46" fill="#c0c0c0"/>
<rect x="804" y="631" width="1" height="55" fill="#c0c0c0"/>
<rect x="812" y="631" width="1" height="63" fill="#c0c0c0"/>
<rect x="820" y="631" width="1" height="77" fill="#c0c0c0"/>
<rect x="828" y="631" width="1" height="83" fill="#c0c0c0"/>
<rect x="836" y="631" width="1" height="96" fill="#c0c0c0"/>
<rect x="844" y="631" width="1" height="104" fill="#c0c0c0"/>
<rect x="852" y="631" width="1" height="102" fill="#c0c0c0"/>
<rect x="860" y="631" width="1" height="111" fill="#c0c0c0"/>
<rect x="868" y="631" width="1" height="107" fill="#c0c0c0"/>
<rect x="876" y="631" width="1" height="98" fill="#c0c0c0"/>
<rect x="884" y="631" width="1" height="92" fill="#c0c0c0"/>
<rect x="892" y="631" width="1" height="83" fill="#c0c0c0"/>
<rect x="900" y="631" width="1" height="79" fill="#c0c0c0"/>
<rect x="908" y="631" width="1" height="70" fill="#c0c0c0"/>
<rect x="916" y="631" width="1" height="69" fill="#c0c0c0"/>
<rect x="924" y="631" width="1" height="64" fill="#c0c0c0"/>
<rect x="932" y="631" width="1" height="59" fill="#c0c0c0"/>
<rect x="940" y="631" width="1" height="53" fill="#c0c0c0"/>
<rect x="948" y="631" width="1" height="42" fill="#c0c0c0"/>
<rect x="956" y="631" width="1" height="37" fill="#c0c0c0"/>
<rect x="964" y="631" width="1" height="30" fill="#c0c0c0"/>
<rect x="972" y="631" width="1" height="23" fill="#c0c0c0"/>
<rect x="980" y="631" width="1" height="19" fill="#c0c0c0"/>
<rect x="988" y="631" width="1" height="17" fill="#c0c0c0"/>
<rect x="996" y="631" width="1" height="12" fill="#c0c0c0"/>
<rect x="1004" y="631" width="1" height="9" fill="#c0c0c0"/>
<rect x="1012" y="631" width="1" height="9" fill="#c0c0c0"/>
<rect x="1020" y="631" width="1" height="9" fill="#c0c0c0"/>
<rect x="1028" y="631" width="1" height="8" fill="#c0c0c0"/>
<rect x="1036" y="631" width="1" height="9" fill="#c0c0c0"/>
<rect x="1044" y="631" width="1" height="7" fill="#c0c0c0"/>
<rect x="1052" y="631" width="1" height="2" fill="#c0c0c0"/>
<rect x="1060" y="631" width="1" height="1" fill="#c0c0c0"/>
<rect x="1068" y="631" width="1" height="4" fill="#c0c0c0"/>
<rect x="1076" y="631" width="1" height="5" fill="#c0c0c0"/>
<rect x="1084" y="631" width="1" height="4" fill="#c0c0c0"/>
<rect x="1092" y="631" width="1" height="5" fill="#c0c0c0"/>
<rect x="1100" y="631" width="1" height="3" fill="#c0c0c0"/>
<rect x="1108" y="631" width="1" height="1" fill="#c0c0c0"/>
<rect x="1116" y="631" width="1" height="1" fill="#c0c0c0"/>
<rect x="1124" y="631" width="1" height="1" fill="#c0c0c0"/>
<rect x="1132" y="631" width="1" height="1" fill="#c0c0c0"/>
<rect x="1140" y="631" width="1" height="3" fill="#c0c0c0"/>
<rect x="1148" y="631" width="1" height="3" fill="#c0c0c0"/>
<rect x="1156" y="631" width="1" height="1" fill="#c0c0c0"/>
<rect x="1164" y="630" width="1" height="2" fill="#c0c0c0"/>
<rect x="1172" y="630" width="1" height="2" fill="#c0c0c0"/>
<rect x="1180" y="631" width="1" height="8" fill="#c0c0c0"/>
<rect x="1188" y="631" width="1" height="14" fill="#c0c0c0"/>
<rect x="1196" y="631" width="1" height="15" fill="#c0c0c0"/>
<rect x="1204" y="631" width="1" height="18" fill="#c0c0c0"/>
<rect x="1212" y="631" width="1" height="22" fill="#c0c0c0"/>
<rect x="1220" y="631" width="1" height="25" fill="#c0c0c0"/>
<rect x="1228" y="631" width="1" height="22" fill="#c0c0c0"/>
<rect x="1236" y="631" width="1" height="17" fill="#c0c0c0"/>
<rect x="1244" y="631" width="1" height="10" fill="#c0c0c0"/>
<rect x="1252" y="631" width="1" height="5" fill="#c0c0c0"/>
<rect x="1260" y="630" width="1" height="2" fill="#c0c0c0"/>
<rect x="1268" y="624" width="1" height="8" fill="#c0c0c0"/>
<rect x="1276" y="619" width="1" height="13" fill="#c0c0c0"/>
<rect x="1284" y="614" width="1" height="18" fill="#c0c0c0"/>
<rect x="1292" y="614" width="1" height="18" fill="#c0c0c0"/>
<rect x="1300" y="616" width="1" height="16" fill="#c0c0c0"/>
<rect x="1308" y="621" width="1" height="11" fill="#c0c0c0"/>
<rect x="1316" y="622" width="1" height="10" fill="#c0c0c0"/>
<rect x="1324" y="620" width="1" height="12" fill="#c0c0c0"/>
<rect x="1332" y="620" width="1" height="12" fill="#c0c0c0"/>
<rect x="1340" y="619" width="1" height="13" fill="#c0c0c0"/>
<rect x="1348" y="619" width="1" height="13" fill="#c0c0c0"/>
<rect x="1356" y="616" width="1" height="16" fill="#c0c0c0"/>
<rect x="1364" y="616" width="1" height="16" fill="#c0c0c0"/>
<rect x="1372" y="618" width="1" height="14" fill="#c0c0c0"/>
<rect x="1380" y="622" width="1" height="10" fill="#c0c0c0"/>
<rect x="1388" y="623" width="1" height="9" fill="#c0c0c0"/>
<rect x="1396" y="619" width="1" height="13" fill="#c0c0c0"/>
<rect x="1404" y="614" width="1" height="18" fill="#c0c0c0"/>
<rect x="1412" y="604" width="1" height="28" fill="#c0c0c0"/>
<rect x="1420" y="599" width="1" height="33" fill="#c0c0c0"/>
<rect x="1428" y="594" width="1" height="38" fill="#c0c0c0"/>
<rect x="1436" y="590" width="1" height="42" fill="#c0c0c0"/>
<rect x="1444" y="591" width="1" height="41" fill="#c0c0c0"/>
<rect x="1452" y="592" width="1" height="40" fill="#c0c0c0"/>
<rect x="1460" y="594" width="1" height="38" fill="#c0c0c0"/>
<rect x="1468" y="596" width="1" height="36" fill="#c0c0c0"/>
<polyline points="0.5,640.0 2.3,639.7 14.9,637.9 27.5,633.7 45.5,628.9 60.1,625.3 69.1,623.5 85.3,622.9 101.5,620.6 117.8,616.6 130.5,613.4 146.7,609.7 159.3,609.7 172.0,612.1 184.6,615.7 197.3,619.9 208.1,623.8 220.7,628.9 229.7,630.1 253.2,631.0 267.6,632.8 278.5,634.1 292.9,635.6 300.5,636.1 307.7,639.2 318.5,640.1 327.5,639.7 340.2,637.9 351.0,634.1 363.7,627.8 372.7,625.3 381.7,620.2 394.4,613.9 405.2,609.7 412.4,606.7 423.2,603.1 437.7,600.7 444.9,598.9 457.5,598.2 470.2,597.6 473.8,596.7 520.7,596.7 538.8,599.5 549.6,603.1 556.8,606.7 567.6,613.9 578.5,622.4 589.3,630.7 598.3,638.3 602.3,641.9 611.3,648.7 620.4,652.7 634.8,656.0 645.6,654.1 658.3,651.3 672.7,645.8 687.1,641.9 701.6,640.1 712.4,639.7 730.5,642.8 741.3,645.8 753.9,650.9 766.6,654.1 782.8,659.6 795.5,664.4 808.1,668.9 818.9,676.2 833.4,687.0 844.2,698.7 855.0,708.7 865.8,718.6 878.5,726.7 891.1,730.0 902.3,728.5 914.9,723.1 927.6,716.2 938.4,708.7 951.0,698.2 963.7,688.8 976.3,679.4 987.1,671.3 999.8,662.1 1010.6,654.9 1023.2,649.1 1035.9,645.1 1048.5,641.9 1064.8,638.3 1082.8,637.4 1099.1,636.5 1115.3,634.1 1158.6,634.1 1165.8,632.8 1174.9,632.8 1183.9,634.1 1192.9,636.5 1201.4,637.9 1211.3,640.1 1222.2,643.1 1234.8,645.8 1245.6,648.7 1254.7,647.8 1263.7,645.5 1274.5,642.4 1285.3,635.6 1294.4,628.9 1305.2,624.7 1316.0,622.0 1328.7,618.9 1341.3,617.9 1359.3,617.9 1370.2,618.9 1399.1,618.9 1404.5,617.5 1413.5,617.0 1424.3,613.0 1437.0,609.0 1449.6,604.0 1460.4,600.0 1468.6,597.1" fill="none" stroke="#ff0000" stroke-width="1" stroke-dasharray="3 3"/>
<rect x="1688" y="583" width="2" height="1" fill="#000"/>
<rect x="1688" y="631" width="2" height="1" fill="#000"/>
</g>
<g font-family='"Liberation Sans","Noto Sans CJK SC",sans-serif' font-size="9.2" fill="#000" stroke="#000" stroke-width=".22">
<text transform="translate(0 593) scale(1 1.05)" textLength="128" lengthAdjust="spacingAndGlyphs">MACD(12,26,9) 423.48 419.67</text>
<text transform="translate(1691 591) scale(1 1.05)">596.11</text>
<text transform="translate(1691 635) scale(1 1.05)">0.00</text>
<text transform="translate(1691 747) scale(1 1.05)">-1415.19</text>
</g>
<g shape-rendering="crispEdges">
<line x1="3" y1="788.5" x2="1687" y2="788.5" stroke="#c0c0c0" stroke-width="1" stroke-dasharray="3 3"/>
<line x1="3" y1="839.5" x2="1687" y2="839.5" stroke="#c0c0c0" stroke-width="1" stroke-dasharray="3 3"/>
<line x1="3" y1="900.5" x2="1687" y2="900.5" stroke="#c0c0c0" stroke-width="1" stroke-dasharray="3 3"/>
<polyline points="-3.5,824.1 4.5,820.9 12.5,829.0 20.5,827.8 28.5,826.0 36.5,835.9 44.5,828.7 52.5,830.8 60.5,824.9 68.5,830.8 76.5,835.7 84.5,824.5 92.5,820.0 100.5,809.7 108.5,807.9 116.5,806.8 124.5,804.3 132.5,811.5 140.5,837.5 148.5,838.9 156.5,852.5 164.5,856.6 172.5,859.2 180.5,844.4 188.5,833.9 196.5,839.9 204.5,849.8 212.5,845.3 220.5,834.8 228.5,835.9 236.5,834.8 244.5,838.6 252.5,852.8 260.5,848.9 268.5,850.7 276.5,858.8 284.5,853.0 292.5,844.9 300.5,844.9 308.5,847.1 316.5,840.2 324.5,829.6 332.5,814.6 340.5,818.7 348.5,814.0 356.5,812.8 364.5,816.9 372.5,813.7 380.5,816.9 388.5,814.9 396.5,807.0 404.5,805.9 412.5,811.0 420.5,804.7 428.5,811.9 436.5,821.8 444.5,817.8 452.5,829.0 460.5,817.3 468.5,816.0 476.5,809.7 484.5,815.8 492.5,818.2 500.5,814.6 508.5,810.6 516.5,824.5 524.5,847.1 532.5,838.0 540.5,848.0 548.5,847.1 556.5,860.6 564.5,871.8 572.5,873.2 580.5,874.1 588.5,857.9 596.5,859.2 604.5,843.8 612.5,845.6 620.5,849.8 628.5,838.6 636.5,834.8 644.5,838.0 652.5,835.7 660.5,833.9 668.5,843.8 676.5,839.9 684.5,844.0 692.5,848.9 700.5,860.1 708.5,857.0 716.5,861.0 724.5,857.0 732.5,866.9 740.5,863.3 748.5,862.1 756.5,865.1 764.5,848.0 772.5,862.8 780.5,877.2 788.5,862.8 796.5,866.4 804.5,877.8 812.5,879.0 820.5,888.0 828.5,881.9 836.5,888.0 844.5,889.1 852.5,866.0 860.5,878.1 868.5,861.0 876.5,850.7 884.5,854.3 892.5,850.7 900.5,854.8 908.5,847.1 916.5,853.9 924.5,849.8 932.5,851.0 940.5,844.4 948.5,835.9 956.5,843.8 964.5,838.9 972.5,835.9 980.5,840.4 988.5,842.0 996.5,836.8 1004.5,838.0 1012.5,844.7 1020.5,842.9 1028.5,841.7 1036.5,845.8 1044.5,837.5 1052.5,832.1 1060.5,833.5 1068.5,850.7 1076.5,845.3 1084.5,840.2 1092.5,842.9 1100.5,838.6 1108.5,833.0 1116.5,838.6 1124.5,839.9 1132.5,846.7 1140.5,847.1 1148.5,842.6 1156.5,834.8 1164.5,833.0 1172.5,838.9 1180.5,861.0 1188.5,857.9 1196.5,848.9 1204.5,853.7 1212.5,854.8 1220.5,857.0 1228.5,844.0 1236.5,835.7 1244.5,831.2 1252.5,829.9 1260.5,824.1 1268.5,824.0 1276.5,821.8 1284.5,818.7 1292.5,833.5 1300.5,837.1 1308.5,847.1 1316.5,835.0 1324.5,833.9 1332.5,834.8 1340.5,829.9 1348.5,833.9 1356.5,824.9 1364.5,834.4 1372.5,838.9 1380.5,843.8 1388.5,839.9 1396.5,824.0 1404.5,821.8 1412.5,808.8 1420.5,816.9 1428.5,815.8 1436.5,813.7 1444.5,826.0 1452.5,824.9 1460.5,829.6 1468.5,830.8" fill="none" stroke="#1e90ff" stroke-width="1" />
</g>
<g font-family='"Liberation Sans","Noto Sans CJK SC",sans-serif' font-size="9.2" fill="#000" stroke="#000" stroke-width=".22">
<text transform="translate(0 765) scale(1 1.05)">RSI(14) 55.7763</text>
<text transform="translate(1691 763) scale(1 1.05)">100</text>
<text transform="translate(1691 792) scale(1 1.05)">80</text>
<text transform="translate(1691 843) scale(1 1.05)">50</text>
<text transform="translate(1691 904) scale(1 1.05)">15</text>
<text transform="translate(1691 923) scale(1 1.05)">0</text>
</g>
<g shape-rendering="crispEdges">
<rect x="60" y="927" width="1" height="3" fill="#000"/>
<rect x="124" y="927" width="1" height="3" fill="#000"/>
<rect x="188" y="927" width="1" height="3" fill="#000"/>
<rect x="252" y="927" width="1" height="3" fill="#000"/>
<rect x="316" y="927" width="1" height="3" fill="#000"/>
<rect x="380" y="927" width="1" height="3" fill="#000"/>
<rect x="444" y="927" width="1" height="3" fill="#000"/>
<rect x="508" y="927" width="1" height="3" fill="#000"/>
<rect x="572" y="927" width="1" height="3" fill="#000"/>
<rect x="636" y="927" width="1" height="3" fill="#000"/>
<rect x="700" y="927" width="1" height="3" fill="#000"/>
<rect x="764" y="927" width="1" height="3" fill="#000"/>
<rect x="828" y="927" width="1" height="3" fill="#000"/>
<rect x="892" y="927" width="1" height="3" fill="#000"/>
<rect x="956" y="927" width="1" height="3" fill="#000"/>
<rect x="1020" y="927" width="1" height="3" fill="#000"/>
<rect x="1084" y="927" width="1" height="3" fill="#000"/>
<rect x="1148" y="927" width="1" height="3" fill="#000"/>
<rect x="1212" y="927" width="1" height="3" fill="#000"/>
<rect x="1276" y="927" width="1" height="3" fill="#000"/>
<rect x="1340" y="927" width="1" height="3" fill="#000"/>
<rect x="1404" y="927" width="1" height="3" fill="#000"/>
<rect x="1468" y="927" width="1" height="3" fill="#000"/>
</g>
<g font-family='"Liberation Sans","Noto Sans CJK SC",sans-serif' font-size="9.2" fill="#000" stroke="#000" stroke-width=".22">
<text transform="translate(-5 939) scale(1 1.05)">16 Oct 2019</text>
<text transform="translate(59 939) scale(1 1.05)">28 Oct 2019</text>
<text transform="translate(123 939) scale(1 1.05)">7 Nov 2019</text>
<text transform="translate(187 939) scale(1 1.05)">19 Nov 2019</text>
<text transform="translate(251 939) scale(1 1.05)">29 Nov 2019</text>
<text transform="translate(315 939) scale(1 1.05)">11 Dec 2019</text>
<text transform="translate(379 939) scale(1 1.05)">23 Dec 2019</text>
<text transform="translate(443 939) scale(1 1.05)">7 Jan 2020</text>
<text transform="translate(507 939) scale(1 1.05)">17 Jan 2020</text>
<text transform="translate(571 939) scale(1 1.05)">31 Jan 2020</text>
<text transform="translate(635 939) scale(1 1.05)">12 Feb 2020</text>
<text transform="translate(699 939) scale(1 1.05)">24 Feb 2020</text>
<text transform="translate(763 939) scale(1 1.05)">5 Mar 2020</text>
<text transform="translate(827 939) scale(1 1.05)">17 Mar 2020</text>
<text transform="translate(891 939) scale(1 1.05)">27 Mar 2020</text>
<text transform="translate(955 939) scale(1 1.05)">8 Apr 2020</text>
<text transform="translate(1019 939) scale(1 1.05)">22 Apr 2020</text>
<text transform="translate(1083 939) scale(1 1.05)">6 May 2020</text>
<text transform="translate(1147 939) scale(1 1.05)">18 May 2020</text>
<text transform="translate(1211 939) scale(1 1.05)">28 May 2020</text>
<text transform="translate(1275 939) scale(1 1.05)">9 Jun 2020</text>
<text transform="translate(1339 939) scale(1 1.05)">19 Jun 2020</text>
<text transform="translate(1403 939) scale(1 1.05)">3 Jul 2020</text>
<text transform="translate(1467 939) scale(1 1.05)">15 Jul 2020</text>
</g>
<polygon points="0,36 3,32 6,36" fill="#000"/>
<g font-family='"Liberation Sans","Noto Sans CJK SC",sans-serif' font-size="9.2" fill="#000" stroke="#000" stroke-width=".22"><text transform="translate(11 37) scale(1 1.05)" textLength="50.8" lengthAdjust="spacingAndGlyphs">HK50-,Daily</text><text transform="translate(68.2 37) scale(1 1.05)" textLength="140.8" lengthAdjust="spacingAndGlyphs">25766.0 25890.0 25302.0 25487.0</text></g></svg>
<div id="tb"></div><div id="tbl0"></div><div id="tbl1"></div><div id="tbl2"></div><div id="redge"></div>
<svg id="tbsvg" width="1734" height="21" viewBox="0 0 1734 21">
<defs>
<pattern id="dither" width="2" height="2" patternUnits="userSpaceOnUse"><rect width="2" height="2" fill="#f0f0f0"/><rect width="1" height="1" fill="#fff"/><rect x="1" y="1" width="1" height="1" fill="#fff"/></pattern>
<linearGradient id="gold" x1="0" y1="0" x2="1" y2="1"><stop offset="0" stop-color="#ffe680"/><stop offset="1" stop-color="#c08a10"/></linearGradient>
<linearGradient id="lens" x1="0" y1="0" x2="0" y2="1"><stop offset="0" stop-color="#e8f4ff"/><stop offset="1" stop-color="#a8d0f0"/></linearGradient>
<linearGradient id="grn" x1="0" y1="0" x2="1" y2="0"><stop offset="0" stop-color="#20c020"/><stop offset=".5" stop-color="#80f080"/><stop offset="1" stop-color="#20c020"/></linearGradient>
<radialGradient id="clk" cx=".4" cy=".35" r=".7"><stop offset="0" stop-color="#60b0ff"/><stop offset="1" stop-color="#0848b0"/></radialGradient>
<g id="grip" shape-rendering="crispEdges" fill="#a0a0a0"><rect x="0" y="1" width="3" height="1"/><rect x="0" y="3" width="3" height="1"/><rect x="0" y="5" width="3" height="1"/><rect x="0" y="7" width="3" height="1"/><rect x="0" y="9" width="3" height="1"/><rect x="0" y="11" width="3" height="1"/><rect x="0" y="13" width="3" height="1"/><rect x="0" y="15" width="3" height="1"/><rect x="0" y="17" width="3" height="1"/></g>
<g id="axes" fill="none" stroke="#555" stroke-width="1.2"><path d="M2.5 3.5V17M0 14.5H13.5"/><path d="M1 5.5L2.5 3L4 5.5M11.5 13L14 14.5L11.5 16" stroke-width="1"/></g>
<g id="dd"><polygon points="0,8 6,8 3,11.5" fill="#000"/></g>
<g id="docplus"><path d="M.8 .8h7.700l3 3v9.900h-10.700z" fill="#fff" stroke="#777" stroke-width="1"/><path d="M8.500 .8v3h3" fill="#ddd" stroke="#777" stroke-width=".8"/><path d="M2.500 3.500h2.500" stroke="#999" stroke-width="1.400"/><path d="M2.500 6.500h6M2.500 8.800h5M2.500 11h3" stroke="#888" stroke-width=".9"/><path d="M10.100 5.800v11.800M4.200 11.700h11.800" stroke="#0a8a0a" stroke-width="4"/><path d="M10.100 6.600v10.200M5 11.700h10.200" stroke="#2fdc2f" stroke-width="2.200"/></g>
<g id="mag"><line x1="4.5" y1="4.5" x2="10" y2="9.5" stroke="#a07810" stroke-width="3.2" stroke-linecap="round"/><line x1="4.5" y1="4.5" x2="10" y2="9.5" stroke="#f0d040" stroke-width="1.6" stroke-linecap="round"/><circle cx="0" cy="0" r="5.4" fill="url(#lens)" stroke="#3a78c8" stroke-width="1.3"/></g>
</defs>
<g shape-rendering="crispEdges">
<!-- pressed backgrounds -->
<rect x="323" y="0" width="24" height="19" fill="url(#dither)"/>
<rect x="475" y="0" width="24" height="19" fill="url(#dither)"/>
<rect x="503" y="0" width="24" height="19" fill="url(#dither)"/>
<rect x="663" y="0" width="24" height="19" fill="url(#dither)"/>
<rect x="1137" y="0" width="24" height="19" fill="url(#dither)"/>
<!-- separators -->
<g fill="#a0a0a0">
<rect x="48" y="0" width="1" height="19"/>
<rect x="322" y="0" width="1" height="19"/>
<rect x="379" y="0" width="1" height="19"/>
<rect x="469" y="0" width="1" height="19"/>
<rect x="474" y="0" width="1" height="19"/>
<rect x="502" y="0" width="1" height="19"/>
<rect x="531" y="0" width="1" height="19"/>
<rect x="662" y="0" width="1" height="19"/>
<rect x="719" y="0" width="1" height="19"/>
<rect x="1136" y="0" width="1" height="19"/>
<rect x="284" y="0" width="1" height="21"/>
<rect x="652" y="0" width="1" height="21"/>
<rect x="958" y="0" width="1" height="21"/>
<rect x="1219" y="0" width="1" height="21"/>
</g>
<g fill="#fff">
<rect x="285" y="0" width="1" height="21"/>
<rect x="653" y="0" width="1" height="21"/>
<rect x="959" y="0" width="1" height="21"/>
<rect x="1220" y="0" width="1" height="21"/>
</g>
</g>
<use href="#grip" x="288" y="0"/><use href="#grip" x="656" y="0"/><use href="#grip" x="962" y="0"/>

<!-- icon 1: list (partial) -->
<g><rect x="-4" y="2.500" width="14.500" height="13" rx="1" fill="#fff" stroke="#3a78c0" stroke-width="1.100"/><path d="M1.500 4.500h7.500M1.500 6.500h7.500M1.500 8.500h7.500M1.500 10.500h7.500" stroke="#c4d6f8" stroke-width="1"/><g shape-rendering="crispEdges"><rect x="0" y="4" width="1" height="1" fill="#e00"/><rect x="0" y="10" width="1" height="1" fill="#e00"/><rect x="0" y="6" width="1" height="1" fill="#242"/><rect x="0" y="8" width="1" height="1" fill="#242"/></g></g>
<!-- icon 2: chart+magnifier -->
<g><rect x="23.700" y="1.500" width="11.800" height="13.300" rx=".8" fill="#f6f6f2" stroke="#b4ac98" stroke-width="1"/><path d="M26.500 3.500v5M33 3.500v4M25.500 7.500h1M33 4.500h1" stroke="#666" stroke-width="1"/><line x1="35.500" y1="13.500" x2="39.600" y2="16.900" stroke="#b88a18" stroke-width="2.600" stroke-linecap="round"/><circle cx="31.600" cy="9.900" r="5" fill="#d4e6f8" fill-opacity=".88" stroke="#5a8ad8" stroke-width="1.100"/><path d="M30 7v5.500M32.500 7.500v5" stroke="#9ab0c4" stroke-width="1.600"/></g>
<!-- icon 3: new order -->
<use href="#docplus" x="58" y=".9"/>
<text x="77" y="12.5" font-family='"Liberation Sans","Noto Sans CJK SC",sans-serif' font-size="12" fill="#000">新订单</text>
<!-- icon 4: gold tag -->
<g><path d="M125.5 10.5L131 2.5L140 7.5L140.5 11L134 16.5Z" fill="url(#gold)" stroke="#a87808" stroke-width="1"/><path d="M126 11L134 15.5L140 10.5" fill="none" stroke="#8a5a08" stroke-width="1.2"/><path d="M131 3.5L139 8" stroke="#fff2a0" stroke-width="1"/></g>
<!-- icon 5: server/cloud -->
<g><path d="M156 2l3-1h7v9h-10z" fill="#2a8ae8" stroke="#1860c0" stroke-width=".8"/><path d="M159 1v9" stroke="#9cd0ff" stroke-width="1.2"/><path d="M160.5 4.5h4M160.5 7h4" stroke="#cfe8ff" stroke-width="1"/><path d="M155.5 15.5a2.6 2.6 0 0 1 .3-5.2a3.6 3.6 0 0 1 6.6-1a2.6 2.6 0 0 1 3.6 1.6a2.4 2.4 0 0 1 .2 4.6z" fill="#f4f6fa" stroke="#8a9ab8" stroke-width="1"/></g>
<!-- icon 6: signals -->
<g fill="none"><circle cx="189" cy="9" r="7.3" stroke="#9ab0e0" stroke-width="1.2"/><path d="M189 9v7.5a7.5 7.5 0 0 0 7.3-7.5a7.3 7.3 0 0 0 -3-5.9z" fill="#a8d8a8" stroke="none"/><circle cx="189" cy="9" r="4.6" stroke="#5a80d8" stroke-width="1.3"/><circle cx="189" cy="8.5" r="1.8" fill="#2a5ad0"/><path d="M189.5 9.5v7" stroke="#18a018" stroke-width="1.6"/><path d="M189 16.5a7.5 7.5 0 0 0 7-5" stroke="#40a040" stroke-width="1"/></g>
<!-- icon 7: expert hat -->
<g><path d="M209.5 7.5l4 7.5l7 1.5l3.5-9z" fill="#f8d850" stroke="#c8a020" stroke-width=".8"/><path d="M208.5 6.5c0-2 3-2.500 4.500-2.500c.5-2 3-3 5-3s4 1.500 4.200 3c1.500.200 2.300 1.200 2 2.300c-2 2.200-13 3.200-15.700.2z" fill="#58a8e0" stroke="#2878c0" stroke-width=".8"/><path d="M213 4c2 1.500 6.500 1.500 9 0" fill="none" stroke="#2060a8" stroke-width="1"/><circle cx="220.500" cy="12.500" r="4.300" fill="#e02010" stroke="#b01008" stroke-width=".6"/><rect x="218.700" y="10.700" width="3.600" height="3.600" fill="#fff"/></g>
<text x="229.500" y="12.5" font-family='"Liberation Sans","Noto Sans CJK SC",sans-serif' font-size="12" fill="#000" textLength="46.500">自动交易</text>

<!-- chart type icons -->
<use href="#axes" x="300" y="0"/>
<path d="M306 11.500h2.500V4.500H311.500" fill="none" stroke="#109010" stroke-width="1.400"/>
<use href="#axes" x="328" y="0"/>
<path d="M336.500 1v12" stroke="#109010" stroke-width="1.200"/><rect x="334" y="3" width="5" height="7.500" fill="url(#grn)" stroke="#109010" stroke-width="1"/>
<use href="#axes" x="356" y="0"/>
<path d="M357 11.500c2-2 3.500-5.500 6-5.500s3.500 3 6 4" fill="none" stroke="#109010" stroke-width="1.300"/>
<!-- zoom in/out -->
<use href="#mag" x="394" y="7"/><path d="M391 7h6M394 4v6" stroke="#3a78c8" stroke-width="1.600"/>
<use href="#mag" x="422" y="7"/><path d="M419 7h6" stroke="#3a78c8" stroke-width="1.600"/>
<!-- tile -->
<g shape-rendering="crispEdges"><rect x="444" y="1" width="8" height="8" fill="#3aa020"/><rect x="452" y="1" width="8" height="8" fill="#2a5ad8"/><rect x="444" y="9" width="8" height="8" fill="#2a5ad8"/><rect x="452" y="9" width="8" height="8" fill="#3aa020"/>
<g fill="#fff"><rect x="445" y="4" width="6" height="4"/><rect x="453" y="4" width="6" height="4"/><rect x="445" y="12" width="6" height="4"/><rect x="453" y="12" width="6" height="4"/></g>
<g><rect x="446" y="5" width="4" height="1" fill="#8ad070"/><rect x="454" y="5" width="4" height="1" fill="#8aa8f0"/><rect x="446" y="13" width="4" height="1" fill="#8aa8f0"/><rect x="454" y="13" width="4" height="1" fill="#8ad070"/></g></g>
<!-- autoscroll / shift -->
<use href="#axes" x="480" y="0"/>
<path d="M487.500 5.500v6l3.500-3z" fill="#80e080" stroke="#109010" stroke-width="1"/>
<use href="#axes" x="508" y="0"/>
<path d="M516.500 3v10" stroke="#1a6aa8" stroke-width="1.200"/><path d="M522 8.500h-4M520 6.500l-2.500 2l2.500 2" fill="none" stroke="#d03010" stroke-width="1.200"/>
<!-- indicators -->
<use href="#docplus" x="541" y=".9"/>
<use href="#dd" x="563" y="0"/>
<!-- clock -->
<circle cx="587" cy="9" r="7.800" fill="url(#clk)"/><circle cx="587" cy="9" r="5.400" fill="#f4f8ff"/><path d="M587 5v4.500h2.500" fill="none" stroke="#333" stroke-width="1.200"/>
<use href="#dd" x="602" y="0"/>
<!-- templates -->
<g><rect x="618.500" y="2.500" width="15" height="13" fill="#fff" stroke="#3a70c8" stroke-width="1"/><rect x="619" y="3" width="14" height="2" fill="#5a98e8"/><path d="M619 10.500h14" stroke="#3a70c8" stroke-width="1"/><path d="M620.500 8.500l3-1l2.500-1l2.500 1l3-1.200" fill="none" stroke="#b02010" stroke-width="1.300"/><path d="M621 13.500l2.500-.5l2 .5l2.500-2l2.500 2" fill="none" stroke="#109010" stroke-width="1.300"/></g>
<use href="#dd" x="641" y="0"/>
<!-- cursor -->
<path d="M669.500 2v12.500l3-2.800l2.200 4.800l2-1l-2.200-4.500h4z" fill="#555"/>
<!-- crosshair -->
<path d="M702.500 2v6M702.500 11v6M696 9.500h5M704 9.500h5.500" stroke="#555" stroke-width="1.100"/>
<!-- v line, h line, trend -->
<path d="M736.500 3v13" stroke="#555" stroke-width="1.200"/>
<path d="M759 9.500h12" stroke="#555" stroke-width="1.200"/>
<path d="M787 16L799 4" stroke="#555" stroke-width="1.300"/>
<!-- channel E -->
<g stroke="#555" stroke-width="1" fill="none"><path d="M813 11L826 2M814 16L827 7M816 9v6M819.500 7v6.500M823 4.500v6M812.500 12.500l3-1.500M817 10l8-5" /></g>
<text x="823.500" y="17.500" font-family='"Liberation Sans",sans-serif' font-size="6.500" font-weight="bold" fill="#444">E</text>
<!-- fibo F -->
<g stroke="#555" stroke-width="1" stroke-dasharray="1 1" shape-rendering="crispEdges"><path d="M842 2.500h14M842 5.500h14M842 9.500h14M842 13.500h10"/></g>
<text x="851.500" y="17.500" font-family='"Liberation Sans",sans-serif' font-size="6.500" font-weight="bold" fill="#444">F</text>
<!-- A -->
<text x="872.500" y="14" font-family='"Liberation Sans",sans-serif' font-size="12.500" font-weight="bold" fill="#666">A</text>
<!-- T box -->
<rect x="899.500" y="3.500" width="11" height="12" fill="none" stroke="#555" stroke-width="1" stroke-dasharray="1 1" shape-rendering="crispEdges"/>
<text x="901.200" y="14" font-family='"Liberation Sans",sans-serif' font-size="11.500" font-weight="bold" fill="#555">T</text>
<!-- arrows -->
<g fill="#555"><path d="M926 6.500l3.500-3.500l3.500 3.500l-3.500 1.500z"/><path d="M933 13l3.500-2l3.500 2l-3.500 3.500z"/><path d="M928 9l2 3l5-5.500" fill="none" stroke="#555" stroke-width="1.300"/></g>
<use href="#dd" x="947" y="0"/>
<!-- timeframes -->
<g font-family='"Liberation Sans",sans-serif' font-size="9.400" fill="#404040">
<text x="973.500" y="13" textLength="12.500" lengthAdjust="spacingAndGlyphs">M1</text>
<text x="1001.700" y="13" textLength="12.800" lengthAdjust="spacingAndGlyphs">M5</text>
<text x="1027.700" y="13" textLength="17.700" lengthAdjust="spacingAndGlyphs">M15</text>
<text x="1055.300" y="13" textLength="17.700" lengthAdjust="spacingAndGlyphs">M30</text>
<text x="1086.500" y="13" textLength="11.700" lengthAdjust="spacingAndGlyphs">H1</text>
<text x="1113.400" y="13" textLength="12.600" lengthAdjust="spacingAndGlyphs">H4</text>
<text x="1142.600" y="13" textLength="11.700" lengthAdjust="spacingAndGlyphs">D1</text>
<text x="1170" y="13" textLength="14" lengthAdjust="spacingAndGlyphs">W1</text>
<text x="1196.700" y="13" textLength="14.700" lengthAdjust="spacingAndGlyphs">MN</text>
</g>
<!-- search -->
<line x1="1686.500" y1="9.500" x2="1682" y2="13.800" stroke="#1848c8" stroke-width="2.400" stroke-linecap="round"/>
<circle cx="1689.400" cy="6.400" r="3.900" fill="#f4f6ff" stroke="#2a60e0" stroke-width="1.300"/>
<!-- chat -->
<g stroke="#8c8c8c" stroke-width="1" fill="#f6f6fa"><path d="M1724.300 9.800l1.400 2.800l-3.200-2.300z"/><ellipse cx="1722" cy="5.800" rx="6.300" ry="4.500"/><path d="M1710.600 13l-.5 2.600l2.600-1.900z"/><ellipse cx="1713.300" cy="10.300" rx="4.800" ry="3.600"/></g>
</svg>

<div id="tp">
<div style="left:0;top:24px;width:108px;height:40px;background:linear-gradient(#dc2828,#c81818 50%,#ad0207);border:1px solid #b40000;border-bottom-color:#a80004;border-left:0;"></div>
<div style="left:110px;top:24px;width:108px;height:40px;background:linear-gradient(#dc2828,#c81818 50%,#ad0207);border:1px solid #b40000;border-bottom-color:#a80004;"></div>
<div style="left:0;top:0;width:51px;height:25px;background:linear-gradient(#fa5252,#e63838 70%,#dc2828);border:1px solid #b80000;border-bottom:0;border-left:0;"></div>
<div style="left:166px;top:0;width:52px;height:25px;background:linear-gradient(#fa5252,#e63838 70%,#dc2828);border:1px solid #b80000;border-bottom:0;"></div>
<div style="left:3px;top:23px;width:44px;height:1px;background:#900000;"></div>
<div style="left:3px;top:24px;width:44px;height:1px;background:#ff8080;"></div>
<div style="left:170px;top:23px;width:44px;height:1px;background:#900000;"></div>
<div style="left:170px;top:24px;width:44px;height:1px;background:#ff8080;"></div>
<div style="left:51px;top:0;width:115px;height:24px;background:#fff;"></div>
<div style="left:53px;top:0;width:111px;height:22px;background:#fff;border:1px solid #a4a8b4;"></div>
<div style="left:55px;top:2px;width:19px;height:18px;background:linear-gradient(#f6f6f6,#ececec 35%,#d8d8d8 40%,#cfcfcf);"></div>
<div style="left:74px;top:1px;width:1px;height:20px;background:#a4a8b4;"></div>
<div style="left:142px;top:1px;width:1px;height:20px;background:#a4a8b4;"></div>
<div style="left:144px;top:2px;width:19px;height:18px;background:linear-gradient(#f6f6f6,#ececec 35%,#d8d8d8 40%,#cfcfcf);"></div>
<div style="left:61px;top:9px;width:0;height:0;border-left:3px solid transparent;border-right:3px solid transparent;border-top:3px solid #4a5ab8;"></div>
<div style="left:150px;top:8px;width:0;height:0;border-left:3px solid transparent;border-right:3px solid transparent;border-bottom:3px solid #4a5ab8;"></div>
<div style="left:80px;top:3px;width:59px;height:16px;font-size:12.5px;line-height:16px;text-align:right;color:#000;">1.00</div>
<div style="left:0;top:4px;width:48px;height:16px;font-size:12.5px;line-height:16px;text-align:center;color:#fff;letter-spacing:-.9px;">SELL</div>
<div style="left:167px;top:4px;width:48px;height:16px;font-size:12.5px;line-height:16px;text-align:center;color:#fff;letter-spacing:-.4px;">BUY</div>
<div style="left:15px;top:44px;width:36px;height:14px;font-size:11.5px;line-height:14px;font-weight:bold;color:#fff;letter-spacing:.4px;">25485</div>
<div style="left:125px;top:44px;width:36px;height:14px;font-size:11.5px;line-height:14px;font-weight:bold;color:#fff;letter-spacing:.4px;">25499</div>
<div style="left:53.5px;top:24px;width:30px;height:36px;font-size:34px;line-height:36px;color:#fff;letter-spacing:-1px;transform:scaleX(.88);transform-origin:0 0;">.5</div>
<div style="left:164px;top:24px;width:30px;height:36px;font-size:34px;line-height:36px;color:#fff;letter-spacing:-1px;transform:scaleX(.88);transform-origin:0 0;">.5</div>
</div>

</body></html>
